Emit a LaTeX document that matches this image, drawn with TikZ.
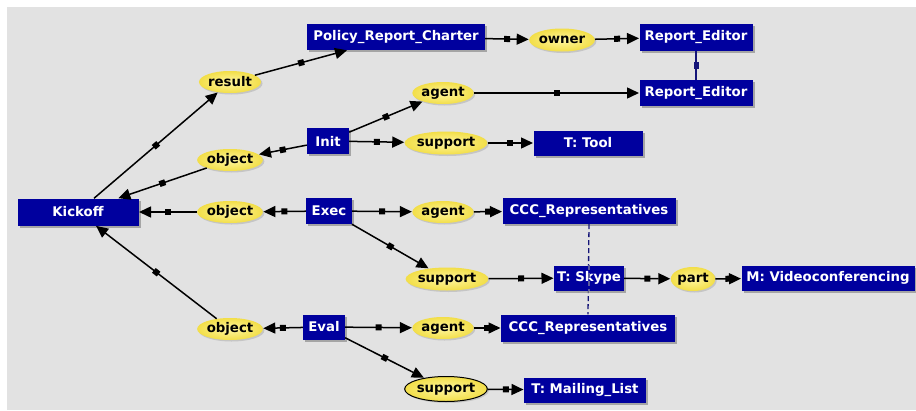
\documentclass[tikz,border=0pt]{standalone}
\usepackage{fontspec}
\setmainfont{DejaVu Sans}
\usetikzlibrary{arrows.meta,shadows,shapes.geometric}
\definecolor{canvasgray}{RGB}{226,226,226}
\definecolor{boxblue}{RGB}{0,0,158}
\definecolor{ovalyellow}{RGB}{242,222,72}
\definecolor{ovallight}{RGB}{255,246,160}
\definecolor{linkblue}{RGB}{20,20,120}
\tikzset{
  concept/.style={rectangle, fill=boxblue, text=white, font=\fontsize{13.3}{15}\bfseries,
    inner sep=0pt, drop shadow={shadow xshift=2pt, shadow yshift=-2pt, fill=black!45, opacity=0.7}},
  relation/.style={ellipse, inner sep=0pt, font=\fontsize{13.3}{15}\bfseries, text=black,
    inner color=ovallight, outer color=ovalyellow,
    drop shadow={shadow xshift=1.5pt, shadow yshift=-1.5pt, fill=black!30, opacity=0.6}},
  link/.style={draw=black, line width=1.5pt, -{Triangle[length=12pt,width=11pt]}, shorten >=0.3pt},
  sq/.style={fill=black, minimum size=6pt, inner sep=0pt, sloped, rectangle},
  coref/.style={draw=linkblue, line width=1.3pt, dash pattern=on 5pt off 3pt},
}
\begin{document}
\begin{tikzpicture}[x=1pt, y=-1pt]
  % canvas
  \fill[white] (0,0) rectangle (916,410);
  \fill[canvasgray] (7,7) rectangle (916,410);
  \useasboundingbox (0,0) rectangle (916,410);

  % concept boxes
  \node[concept, minimum width=178pt, minimum height=26pt] (prc)   at (396,37)  {Policy\_Report\_Charter};
  \node[concept, minimum width=113pt, minimum height=27pt] (re1)   at (696,37)  {Report\_Editor};
  \node[concept, minimum width=113pt, minimum height=26pt] (re2)   at (696,93)  {Report\_Editor};
  \node[concept, minimum width=42pt,  minimum height=26pt] (init)  at (328,141) {Init};
  \node[concept, minimum width=109pt, minimum height=25pt] (tool)  at (588,143) {T: Tool};
  \node[concept, minimum width=121pt, minimum height=27pt] (kick)  at (78,212)  {Kickoff};
  \node[concept, minimum width=46pt,  minimum height=26pt] (exec)  at (329,211) {Exec};
  \node[concept, minimum width=173pt, minimum height=26pt] (ccc1)  at (589,211) {CCC\_Representatives};
  \node[concept, minimum width=173pt, minimum height=25pt] (video) at (828,278) {M: Videoconferencing};
  \node[concept, minimum width=42pt,  minimum height=25pt] (eval)  at (324,327) {Eval};
  \node[concept, minimum width=174pt, minimum height=27pt] (ccc2)  at (588,328) {CCC\_Representatives};
  \node[concept, minimum width=122pt, minimum height=25pt] (mail)  at (585,390) {T: Mailing\_List};

  % coreference links
  \draw[coref] (ccc1.south) -- (ccc2.north);
  \draw[draw=linkblue, line width=1.5pt] (re1.south) -- node[sq, fill=linkblue, minimum width=5pt, minimum height=7pt, sloped=false]{} (re2.north);

  \node[concept, minimum width=70pt,  minimum height=25pt] (skype) at (589,278) {T: Skype};
  \draw[coref, draw=linkblue!70] (skype.north) -- (skype.south);

  % relation ovals
  \node[relation, minimum width=56pt, minimum height=22pt] (result)  at (230,82)  {result};
  \node[relation, minimum width=54pt, minimum height=23pt] (owner)   at (562,40)  {owner};
  \node[relation, minimum width=56pt, minimum height=22pt] (agent1)  at (443,93)  {agent};
  \node[relation, minimum width=56pt, minimum height=22pt] (object1) at (230,160) {object};
  \node[relation, minimum width=68pt, minimum height=23pt] (support1) at (446,143) {support};
  \node[relation, minimum width=56pt, minimum height=22pt] (object2) at (230,212) {object};
  \node[relation, minimum width=56pt, minimum height=22pt] (agent2)  at (443,212) {agent};
  \node[relation, minimum width=66pt, minimum height=23pt] (support2) at (447,279) {support};
  \node[relation, minimum width=44pt, minimum height=24pt] (part)    at (693,279) {part};
  \node[relation, minimum width=56pt, minimum height=22pt] (object3) at (230,329) {object};
  \node[relation, minimum width=56pt, minimum height=22pt] (agent3)  at (443,328) {agent};
  \node[relation, minimum width=66pt, minimum height=25pt, draw=black, line width=1pt] (support3) at (446,389) {support};

  % graph edges
  \draw[link] (kick) -- node[sq]{} (result);
  \draw[link] (result) -- node[sq]{} (prc);
  \draw[link] (prc) -- node[sq]{} (owner);
  \draw[link] (owner) -- node[sq]{} (re1);

  \draw[link] (init) -- node[sq]{} (agent1);
  \draw[link] (agent1) -- node[sq]{} (re2);
  \draw[link] (init) -- node[sq]{} (object1);
  \draw[link] (object1) -- node[sq]{} (kick);
  \draw[link] (init) -- node[sq]{} (support1);
  \draw[link] (support1) -- node[sq]{} (tool);

  \draw[link] (exec) -- node[sq]{} (object2);
  \draw[link] (object2) -- node[sq]{} (kick);
  \draw[link] (exec) -- node[sq]{} (agent2);
  \draw[link] (agent2) -- node[sq]{} (ccc1);
  \draw[link] (exec) -- node[sq]{} (support2);
  \draw[link] (support2) -- node[sq]{} (skype);
  \draw[link] (skype) -- node[sq]{} (part);
  \draw[link] (part) -- node[sq]{} (video);

  \draw[link] (eval) -- node[sq]{} (object3);
  \draw[link] (object3) -- node[sq]{} (kick);
  \draw[link] (eval) -- node[sq]{} (agent3);
  \draw[link] (agent3) -- node[sq]{} (ccc2);
  \draw[link] (eval) -- node[sq]{} (support3);
  \draw[link] (support3) -- node[sq]{} (mail);
\end{tikzpicture}
\end{document}
